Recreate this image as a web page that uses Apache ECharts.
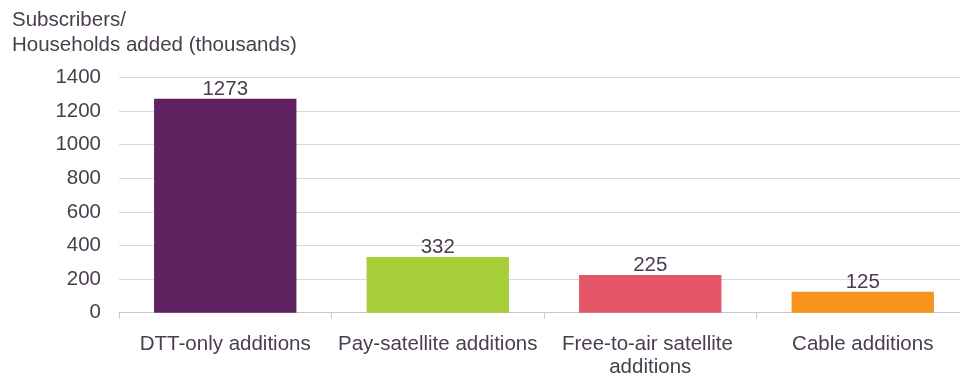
<!DOCTYPE html>
<html>
<head>
<meta charset="utf-8">
<script src="https://cdn.jsdelivr.net/npm/echarts@6/dist/echarts.min.js"></script>
<style>html,body{margin:0;padding:0;background:#fff;}#c{width:960px;height:381px;}</style>
</head>
<body>
<div id="c"></div>
<script>
const categories = ["DTT-only additions", "Pay-satellite additions", "Free-to-air satellite additions", "Cable additions"];
const values = [1273, 332, 225, 125];
const barColors = ["#5f2160", "#a6ce39", "#e45567", "#f7941d"];
const titleText = "Subscribers/\nHouseholds added (thousands)";

const textColor = "#4a3d4e";
const font = "Liberation Sans, Arial, sans-serif";
const chart = echarts.init(document.getElementById('c'));
chart.setOption({
  animation: false,
  title: {
    text: titleText, left: 7, top: 3,
    textStyle: { fontFamily: font, fontSize: 20.5, fontWeight: 'normal', color: textColor, lineHeight: 25 }
  },
  grid: { left: 119, right: -9, top: 77.5, bottom: 68.3, containLabel: false, outerBoundsMode: 'none' },
  xAxis: {
    type: 'category', data: categories,
    axisLine: { lineStyle: { color: '#c8c8c8', width: 1 } },
    axisTick: { show: true, length: 6, lineStyle: { color: '#c8c8c8' } },
    axisLabel: { fontFamily: font, fontSize: 20.5, color: textColor, margin: 20, lineHeight: 23, width: 200, overflow: 'break', interval: 0 }
  },
  yAxis: {
    type: 'value', min: 0, max: 1400, interval: 200,
    axisLine: { show: false }, axisTick: { show: false },
    splitLine: { lineStyle: { color: '#d9d9d9', width: 1 } },
    axisLabel: { fontFamily: font, fontSize: 20.5, color: textColor, margin: 18, formatter: v => String(v) }
  },
  series: [{
    type: 'bar', barCategoryGap: '33%',
    data: values.map((v, i) => ({ value: v, itemStyle: { color: barColors[i] } })),
    label: { show: true, position: 'top', distance: -1, fontFamily: font, fontSize: 20.5, color: textColor }
  }]
});
</script>
</body>
</html>
